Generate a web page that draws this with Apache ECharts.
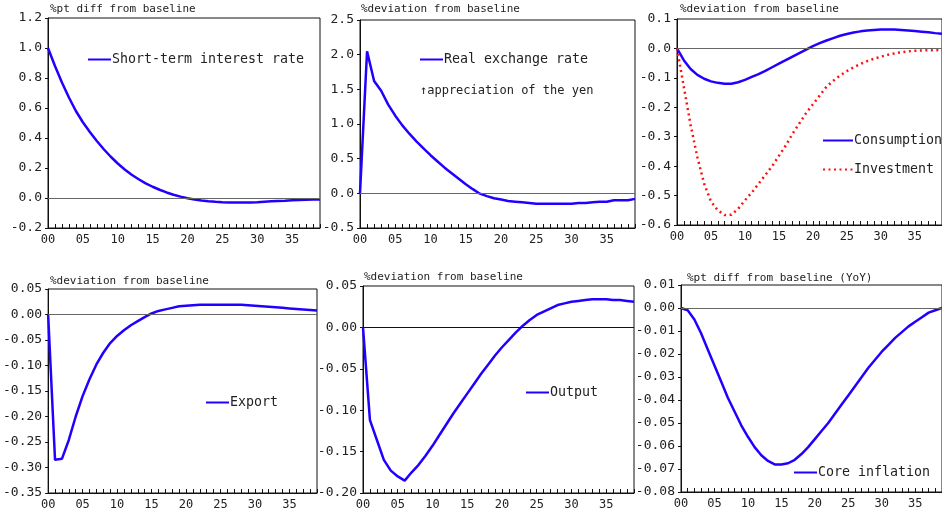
<!DOCTYPE html>
<html><head><meta charset="utf-8">
<script src="https://cdn.jsdelivr.net/npm/echarts@6/dist/echarts.min.js"></script>
<style>html,body{margin:0;padding:0;background:#fff}#c{width:942px;height:520px}</style>
</head><body><div id="c"></div>
<script>
var quarters = [];
for (var i = 0; i < 40; i++) quarters.push((i < 10 ? '0' : '') + i);

var rateVals = [1.0,0.88,0.77,0.67,0.58,0.505,0.44,0.38,0.325,0.275,0.23,0.19,0.155,0.125,0.098,0.075,0.055,0.037,0.022,0.009,-0.002,-0.01,-0.016,-0.021,-0.025,-0.028,-0.03,-0.03,-0.03,-0.03,-0.028,-0.025,-0.022,-0.02,-0.018,-0.015,-0.013,-0.012,-0.01,-0.01];
var exchVals = [0,2.05,1.62,1.48,1.28,1.12,0.98,0.86,0.75,0.65,0.55,0.46,0.37,0.29,0.21,0.13,0.06,-0.005,-0.04,-0.07,-0.09,-0.11,-0.12,-0.13,-0.14,-0.15,-0.15,-0.15,-0.15,-0.15,-0.15,-0.14,-0.14,-0.13,-0.12,-0.12,-0.1,-0.1,-0.1,-0.08];
var consVals = [0,-0.04,-0.07,-0.09,-0.103,-0.112,-0.117,-0.12,-0.12,-0.115,-0.107,-0.097,-0.087,-0.076,-0.064,-0.052,-0.04,-0.028,-0.016,-0.004,0.008,0.018,0.027,0.035,0.043,0.049,0.054,0.058,0.061,0.063,0.064,0.064,0.064,0.063,0.061,0.059,0.057,0.055,0.052,0.05];
var invVals = [0,-0.13,-0.26,-0.37,-0.46,-0.52,-0.55,-0.566,-0.565,-0.545,-0.516,-0.49,-0.46,-0.43,-0.4,-0.365,-0.33,-0.29,-0.255,-0.22,-0.19,-0.16,-0.13,-0.11,-0.092,-0.077,-0.064,-0.053,-0.043,-0.035,-0.028,-0.022,-0.017,-0.013,-0.01,-0.008,-0.007,-0.006,-0.006,-0.005];
var exportVals = [0,-0.285,-0.283,-0.246,-0.2,-0.16,-0.127,-0.098,-0.075,-0.056,-0.042,-0.031,-0.021,-0.013,-0.005,0.002,0.007,0.01,0.013,0.016,0.017,0.018,0.019,0.019,0.019,0.019,0.019,0.019,0.019,0.018,0.017,0.016,0.015,0.014,0.013,0.012,0.011,0.01,0.009,0.008];
var outputVals = [0,-0.112,-0.136,-0.16,-0.173,-0.18,-0.185,-0.175,-0.166,-0.155,-0.143,-0.13,-0.117,-0.104,-0.092,-0.08,-0.068,-0.056,-0.045,-0.034,-0.024,-0.015,-0.006,0.002,0.009,0.015,0.019,0.023,0.027,0.029,0.031,0.032,0.033,0.034,0.034,0.034,0.033,0.033,0.032,0.031];
var coreVals = [0,-0.001,-0.005,-0.011,-0.018,-0.025,-0.032,-0.039,-0.045,-0.051,-0.056,-0.0605,-0.064,-0.0665,-0.068,-0.068,-0.0675,-0.066,-0.0635,-0.0605,-0.057,-0.0535,-0.05,-0.046,-0.042,-0.038,-0.034,-0.03,-0.026,-0.0225,-0.019,-0.016,-0.013,-0.0105,-0.008,-0.006,-0.004,-0.002,-0.001,0.0];

var panelTitles = ['%pt diff from baseline','%deviation from baseline','%deviation from baseline','%deviation from baseline','%deviation from baseline','%pt diff from baseline (YoY)'];
var yMin = [-0.2,-0.5,-0.6,-0.35,-0.2,-0.08];
var yMax = [1.2,2.5,0.1,0.05,0.05,0.01];
var yStep = [0.2,0.5,0.1,0.05,0.05,0.01];
var yDec = [1,1,1,2,2,2];
var seriesNames = ['Short-term interest rate','Real exchange rate','Consumption','Investment','Export','Output','Core inflation'];
var noteText = '\u2191appreciation of the yen';

var FONT = '"DejaVu Sans Mono", "Liberation Mono", monospace';
var BLUE = '#2200ff';
var grids = [
  {left:48, top:18, width:272, height:210},
  {left:360, top:20, width:275, height:208},
  {left:677, top:19, width:270, height:206},
  {left:48, top:289, width:269, height:204},
  {left:363, top:286, width:271, height:207},
  {left:681, top:285, width:270, height:207}
];
var titlePos = [[50,4],[361,4],[680,4],[50,276],[364,272],[687,273]];

var option = {animation:false, grid:[], xAxis:[], yAxis:[], series:[], title:[], legend:[], graphic:[]};
grids.forEach(function(g,i){
  option.grid.push({left:g.left, top:g.top, width:g.width, height:g.height, show:true, borderColor:'#111', borderWidth:1, backgroundColor:'transparent', containLabel:false});
  option.xAxis.push({type:'category', gridIndex:i, data:quarters, boundaryGap:false,
    axisLine:{show:true, onZero:false, lineStyle:{color:'#111', width:1}},
    axisTick:{show:true, inside:true, length:4, interval:0, lineStyle:{color:'#111'}},
    axisLabel:{interval:4, color:'#222', fontFamily:FONT, fontSize:12, margin:6},
    splitLine:{show:false}});
  var d = yDec[i];
  option.yAxis.push({type:'value', gridIndex:i, min:yMin[i], max:yMax[i], interval:yStep[i],
    axisLine:{show:true, lineStyle:{color:'#111'}},
    axisTick:{show:true, length:3, lineStyle:{color:'#111'}},
    splitLine:{show:false},
    axisLabel:{color:'#222', fontFamily:FONT, fontSize:13, margin:6, formatter:function(v){return v.toFixed(d);}}});
  option.title.push({text:panelTitles[i], left:titlePos[i][0], top:titlePos[i][1], padding:0,
    textStyle:{fontFamily:FONT, fontSize:11, fontWeight:'normal', color:'#222'}});
});

function zeroLine(color){
  return {silent:true, symbol:'none', label:{show:false}, lineStyle:{color:color, width:1, type:'solid'}, data:[{yAxis:0}], animation:false};
}
function lineSeries(name, vals, gi, extra){
  var s = {name:name, type:'line', xAxisIndex:gi, yAxisIndex:gi, data:vals, symbol:'none', showSymbol:false,
    lineStyle:{color:BLUE, width:2.5}, itemStyle:{color:BLUE}, z:3};
  if (extra) for (var k in extra) s[k] = extra[k];
  return s;
}
option.series.push(lineSeries(seriesNames[0], rateVals, 0, {markLine:zeroLine('#666')}));
option.series.push(lineSeries(seriesNames[1], exchVals, 1, {markLine:zeroLine('#666')}));
option.series.push(lineSeries(seriesNames[2], consVals, 2, {markLine:zeroLine('#666')}));
option.series.push(lineSeries(seriesNames[3], invVals, 2, {lineStyle:{color:'#ff1010', width:2.5, type:[2,3.5]}, itemStyle:{color:'#ff1010'}}));
option.series.push(lineSeries(seriesNames[4], exportVals, 3, {markLine:zeroLine('#666')}));
option.series.push(lineSeries(seriesNames[5], outputVals, 4, {markLine:zeroLine('#111')}));
option.series.push(lineSeries(seriesNames[6], coreVals, 5, {markLine:zeroLine('#666')}));

function legend(names, left, top, gap, w){
  return {data:names, left:left, top:top, orient:'vertical', padding:0, itemGap:gap||10, itemWidth:w||23, itemHeight:12,
    itemStyle:{opacity:0, borderWidth:0},
    textStyle:{fontFamily:FONT, fontSize:13.3, color:'#222', padding:[0,0,0,-4]}, selectedMode:false};
}
option.legend.push(legend([seriesNames[0]], 87, 53));
option.legend.push(legend([seriesNames[1]], 419, 53));
option.legend.push(legend([seriesNames[2], seriesNames[3]], 822, 134, 16, 30));
option.legend.push(legend([seriesNames[4]], 205, 396));
option.legend.push(legend([seriesNames[5]], 525, 386));
option.legend.push(legend([seriesNames[6]], 793, 466));

option.graphic.push({type:'text', left:420, top:85, style:{text:noteText, fontFamily:FONT, fontSize:12, fill:'#222'}});

var chart = echarts.init(document.getElementById('c'), null, {renderer:'canvas'});
chart.setOption(option);
</script>
</body></html>
